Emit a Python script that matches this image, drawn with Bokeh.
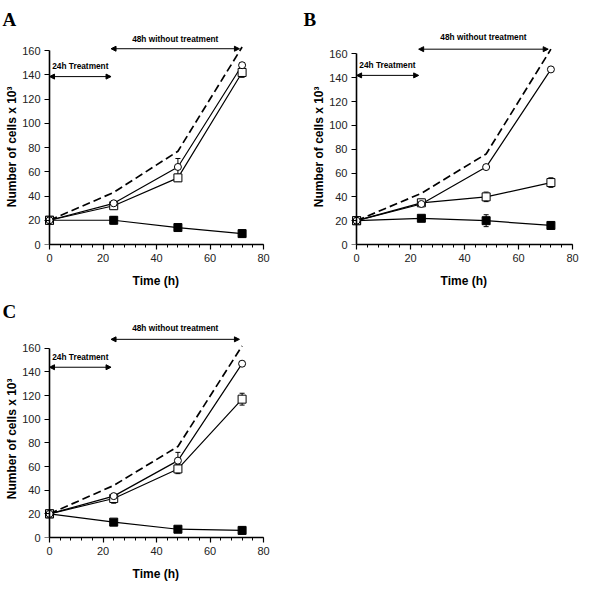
from bokeh.plotting import figure
from bokeh.layouts import column, row
from bokeh.models import (Range1d, SingleIntervalTicker, ColumnDataSource, Whisker,
                          TeeHead, Arrow, NormalHead, Label, LinearAxis)
from bokeh.embed import file_html
from bokeh.resources import INLINE

# ---------------- data ----------------
time_h = [0, 24, 48, 72]
x_ticks_interval = 20
y_ticks_interval = 20

A_control = [20, 43, 77, 163]
A_circle = [20, 34, 64, 148]
A_circle_err = [2, 2, 7, 2]
A_square = [20, 32, 55, 142]
A_square_err = [2, 3, 3, 4]
A_filled = [20, 20, 14, 9]
A_filled_err = [3, 3, 2, 3]

B_control = [20, 43, 76, 164]
B_circle = [20, 34, 65, 147]
B_circle_err = [2, 2, 1, 1]
B_square = [20, 35, 40, 52]
B_square_err = [3, 3, 4, 4]
B_filled = [20, 22, 20, 16]
B_filled_err = [3, 2, 5, 3]

C_control = [20, 44, 77, 162]
C_circle = [20, 35, 65, 147]
C_circle_err = [2, 2, 7, 2]
C_square = [20, 33, 58, 117]
C_square_err = [2, 4, 4, 5]
C_filled = [20, 13, 7, 6]
C_filled_err = [3, 2, 1, 3]

treatment_label = "24h Treatment"
recovery_label = "48h without treatment"
x_title = "Time (h)"
y_title = "Number of cells x 10\u00b3"
treatment_span = [0, 23]
recovery_span = [23, 71]
# per panel: (recovery text y, recovery arrow y, treatment text y, treatment arrow y)
A_annot_y = [170, 161.6, 147.6, 138.6]
B_annot_y = [174, 164, 151, 142]
C_annot_y = [177, 167.6, 153, 144]

FONT = "Liberation Sans"
NBSP = "\u00a0"


def make_panel(letter, letter_offset, letter_standoff, control, circ, circ_err, sq, sq_err,
               filled, filled_err, annot_y, y_end, width, height, left, right, top, bottom):
    p = figure(width=width, height=height, output_backend="svg", toolbar_location=None,
               x_range=Range1d(-3, 80), y_range=Range1d(0, y_end),
               min_border_left=left, min_border_right=right,
               min_border_top=top, min_border_bottom=bottom,
               title=letter)
    p.outline_line_color = None
    p.grid.visible = False
    p.background_fill_color = "white"
    p.border_fill_color = "white"

    # panel letter as title
    p.title.text_font = "Liberation Serif"
    p.title.text_font_size = "19px"
    p.title.text_font_style = "bold"
    p.title.text_color = "black"
    p.title.align = "left"
    p.title.offset = letter_offset
    p.title.standoff = letter_standoff

    # x axis
    xa = p.xaxis[0]
    xa.ticker = SingleIntervalTicker(interval=x_ticks_interval, num_minor_ticks=5)
    xa.bounds = (0, 80)
    xa.minor_tick_in = 0
    xa.minor_tick_out = 3
    xa.minor_tick_line_color = "black"
    xa.major_label_standoff = 4
    xa.axis_label_standoff = 9
    # padding keeps the title centred on the 0-80 axis rather than the frame
    xa.axis_label = NBSP * 2 + x_title
    xa.major_tick_out = 5

    # y axis (labels only, at panel edge)
    ya = p.yaxis[0]
    ya.ticker = SingleIntervalTicker(interval=y_ticks_interval, num_minor_ticks=0)
    ya.bounds = (0, 160)
    ya.axis_line_color = None
    ya.major_tick_line_color = None
    ya.minor_tick_line_color = None
    ya.major_tick_in = 0
    ya.major_tick_out = 0
    ya.major_label_standoff = 1
    ya.axis_label_standoff = 0
    ya.axis_label = y_title + NBSP * 5

    # y axis line + ticks drawn at x = 0
    y_line = LinearAxis(ticker=SingleIntervalTicker(interval=y_ticks_interval, num_minor_ticks=0),
                        bounds=(0, 160), fixed_location=0,
                        major_label_text_font_size="0px", major_label_text_color=None,
                        major_tick_in=0, major_tick_out=5, minor_tick_line_color=None,
                        axis_line_width=1.6, major_tick_line_width=1.2)
    p.add_layout(y_line, "left")

    for ax in (xa, ya):
        ax.major_label_text_font = FONT
        ax.major_label_text_font_size = "11px"
        ax.major_label_text_color = "#222222"
        ax.axis_label_text_font = FONT
        ax.axis_label_text_font_size = "12px"
        ax.axis_label_text_font_style = "bold"
        ax.axis_label_text_color = "black"
    xa.axis_line_width = 1.6
    xa.major_tick_line_width = 1.2
    xa.major_tick_in = 0

    # control (dashed)
    p.line(time_h, control, line_color="black", line_width=1.7, line_dash="8 4")

    # series lines
    p.line(time_h, filled, line_color="black", line_width=1.2)
    p.line(time_h, sq, line_color="black", line_width=1.2)
    p.line(time_h, circ, line_color="black", line_width=1.2)

    # error bars
    for vals, errs in ((filled, filled_err), (sq, sq_err), (circ, circ_err)):
        src = ColumnDataSource(dict(x=time_h,
                                    upper=[v + e for v, e in zip(vals, errs)],
                                    lower=[v - e for v, e in zip(vals, errs)]))
        p.add_layout(Whisker(base="x", upper="upper", lower="lower", source=src,
                             line_color="black", line_width=1,
                             upper_head=TeeHead(size=5, line_width=1, line_color="black"),
                             lower_head=TeeHead(size=5, line_width=1, line_color="black")))

    # markers
    p.scatter(time_h, filled, marker="square", size=8, fill_color="black",
              line_color="black")
    p.scatter(time_h, sq, marker="square", size=8, fill_color="white",
              line_color="black", line_width=1)
    p.scatter(time_h, circ, marker="circle", size=7, fill_color="white",
              line_color="black", line_width=1)

    # annotations
    rec_text_y, rec_arrow_y, trt_text_y, trt_arrow_y = annot_y
    for span, ay in ((recovery_span, rec_arrow_y), (treatment_span, trt_arrow_y)):
        p.add_layout(Arrow(x_start=span[0], y_start=ay, x_end=span[1], y_end=ay,
                           line_color="black", line_width=1,
                           start=NormalHead(size=5, fill_color="black", line_color="black"),
                           end=NormalHead(size=5, fill_color="black", line_color="black")))
    p.add_layout(Label(x=47, y=rec_text_y, text=recovery_label, text_align="center",
                       text_baseline="middle", text_font=FONT, text_font_size="8.3px",
                       text_font_style="bold", text_color="black"))
    p.add_layout(Label(x=1, y=trt_text_y, text=treatment_label, text_align="left",
                       text_baseline="middle", text_font=FONT, text_font_size="8.3px",
                       text_font_style="bold", text_color="black"))
    return p


pA = make_panel("A", -39, 6, A_control, A_circle, A_circle_err, A_square, A_square_err,
                A_filled, A_filled_err, A_annot_y, 175, 300, 296, 41, 37, 32, 52)
pB = make_panel("B", -45, 5, B_control, B_circle, B_circle_err, B_square, B_square_err,
                B_filled, B_filled_err, B_annot_y, 178, 300, 296, 48, 28, 30, 49)
pC = make_panel("C", -39, 4, C_control, C_circle, C_circle_err, C_square, C_square_err,
                C_filled, C_filled_err, C_annot_y, 181, 300, 310, 41, 37, 27, 69)

layout = column(row(pA, pB), pC)
open("out.html", "w").write(file_html(layout, INLINE))
